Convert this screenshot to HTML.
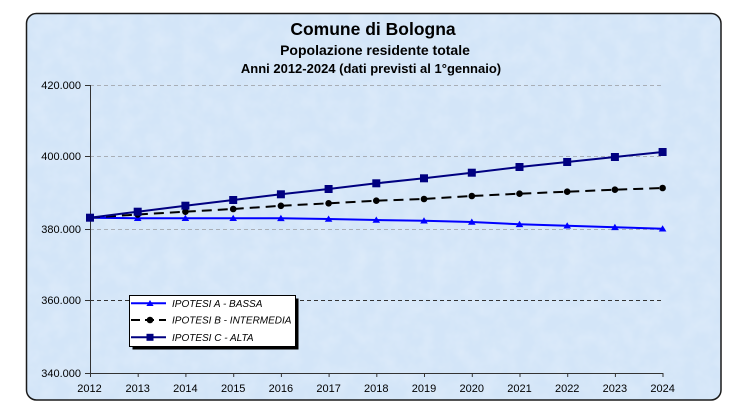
<!DOCTYPE html>
<html>
<head>
<meta charset="utf-8">
<style>
html,body{margin:0;padding:0;background:#fff;}
body{width:743px;height:413px;overflow:hidden;}
svg{display:block;}
text{font-family:"Liberation Sans",Arial,sans-serif;}
</style>
</head>
<body>
<svg width="743" height="413" viewBox="0 0 743 413" xmlns="http://www.w3.org/2000/svg">
  <defs>
    <filter id="tex" x="0" y="0" width="100%" height="100%">
      <feTurbulence type="fractalNoise" baseFrequency="0.06" numOctaves="3" seed="4" result="n"/>
      <feColorMatrix in="n" type="matrix" values="0 0 0 0 1  0 0 0 0 1  0 0 0 0 1  0 0 0 0.35 -0.12" result="w"/>
      <feComposite in="w" in2="SourceGraphic" operator="in"/>
    </filter>
  </defs>
  <!-- frame -->
  <rect x="26.5" y="13.5" width="694.5" height="386.5" rx="10" ry="10" fill="#d3e5f8"/>
  <rect x="26.5" y="13.5" width="694.5" height="386.5" rx="10" ry="10" fill="#d3e5f8" filter="url(#tex)"/>
  <rect x="26.5" y="13.5" width="694.5" height="386.5" rx="10" ry="10" fill="none" stroke="#1a1a1a" stroke-width="1.5"/>

  <!-- titles -->
  <text x="373" y="35" font-size="17.5" font-weight="bold" text-anchor="middle" fill="#000">Comune di Bologna</text>
  <text x="375" y="55" font-size="14" font-weight="bold" text-anchor="middle" fill="#000">Popolazione residente totale</text>
  <text x="371" y="73" font-size="13" font-weight="bold" text-anchor="middle" fill="#000">Anni 2012-2024 (dati previsti al 1°gennaio)</text>

  <!-- gridlines -->
  <g stroke-width="1" stroke-dasharray="4,3" fill="none">
    <line x1="90" y1="85.5" x2="661" y2="85.5" stroke="#a8aeb6"/>
    <line x1="90" y1="156.5" x2="661" y2="156.5" stroke="#a8aeb6"/>
    <line x1="90" y1="229.5" x2="661" y2="229.5" stroke="#a8aeb6"/>
    <line x1="90" y1="300.5" x2="661" y2="300.5" stroke="#333"/>
  </g>

  <!-- axes -->
  <g stroke="#333" stroke-width="1" fill="none">
    <line x1="90.5" y1="85" x2="90.5" y2="373"/>
    <line x1="90" y1="373.5" x2="663" y2="373.5"/>
    <line x1="85" y1="85.5" x2="90" y2="85.5"/>
    <line x1="85" y1="156.5" x2="90" y2="156.5"/>
    <line x1="85" y1="229.5" x2="90" y2="229.5"/>
    <line x1="85" y1="300.5" x2="90" y2="300.5"/>
    <line x1="85" y1="373.5" x2="90" y2="373.5"/>
    <line x1="90.5" y1="373" x2="90.5" y2="377"/>
    <line x1="138.2" y1="373" x2="138.2" y2="377"/>
    <line x1="185.9" y1="373" x2="185.9" y2="377"/>
    <line x1="233.7" y1="373" x2="233.7" y2="377"/>
    <line x1="281.4" y1="373" x2="281.4" y2="377"/>
    <line x1="329.1" y1="373" x2="329.1" y2="377"/>
    <line x1="376.8" y1="373" x2="376.8" y2="377"/>
    <line x1="424.5" y1="373" x2="424.5" y2="377"/>
    <line x1="472.3" y1="373" x2="472.3" y2="377"/>
    <line x1="520" y1="373" x2="520" y2="377"/>
    <line x1="567.7" y1="373" x2="567.7" y2="377"/>
    <line x1="615.4" y1="373" x2="615.4" y2="377"/>
    <line x1="663" y1="373" x2="663" y2="377"/>
  </g>

  <!-- y labels -->
  <g font-size="11" text-anchor="end" fill="#000">
    <text x="81" y="89">420.000</text>
    <text x="81" y="160">400.000</text>
    <text x="81" y="233">380.000</text>
    <text x="81" y="304">360.000</text>
    <text x="81" y="377">340.000</text>
  </g>
  <!-- x labels -->
  <g font-size="11" text-anchor="middle" fill="#000">
    <text x="89.5" y="392">2012</text>
    <text x="137.7" y="392">2013</text>
    <text x="185.4" y="392">2014</text>
    <text x="233.2" y="392">2015</text>
    <text x="280.9" y="392">2016</text>
    <text x="328.6" y="392">2017</text>
    <text x="376.3" y="392">2018</text>
    <text x="424" y="392">2019</text>
    <text x="471.8" y="392">2020</text>
    <text x="519.5" y="392">2021</text>
    <text x="567.2" y="392">2022</text>
    <text x="614.9" y="392">2023</text>
    <text x="662.6" y="392">2024</text>
  </g>

  <!-- Series A -->
  <polyline fill="none" stroke="#0000ff" stroke-width="2" points="90,217.7 137.7,218.2 185.4,218.2 233.2,218.2 280.9,218.3 328.6,219 376.3,220 424,220.7 471.8,222 519.5,224.3 567.2,225.7 614.9,227.3 662.6,228.7"/>
  <g fill="#0000ff">
    <polygon points="137.7,214.7 141.5,221 133.9,221"/>
    <polygon points="185.4,214.7 189.2,221 181.6,221"/>
    <polygon points="233.2,214.7 237,221 229.4,221"/>
    <polygon points="280.9,214.8 284.7,221.1 277.1,221.1"/>
    <polygon points="328.6,215.5 332.4,221.8 324.8,221.8"/>
    <polygon points="376.3,216.5 380.1,222.8 372.5,222.8"/>
    <polygon points="424,217.2 427.8,223.5 420.2,223.5"/>
    <polygon points="471.8,218.5 475.6,224.8 468,224.8"/>
    <polygon points="519.5,220.8 523.3,227.1 515.7,227.1"/>
    <polygon points="567.2,222.2 571,228.5 563.4,228.5"/>
    <polygon points="614.9,223.8 618.7,230.1 611.1,230.1"/>
    <polygon points="662.6,225.2 666.4,231.5 658.8,231.5"/>
  </g>

  <!-- Series B -->
  <polyline fill="none" stroke="#000" stroke-width="2" stroke-dasharray="10,6" points="90,217.7 137.7,214.5 185.4,211.7 233.2,209 280.9,205.8 328.6,203.3 376.3,200.7 424,199 471.8,196 519.5,193.7 567.2,191.7 614.9,189.7 662.6,188"/>
  <g fill="#000">
    <circle cx="137.7" cy="214.5" r="3.3"/>
    <circle cx="185.4" cy="211.7" r="3.3"/>
    <circle cx="233.2" cy="209" r="3.3"/>
    <circle cx="280.9" cy="205.8" r="3.3"/>
    <circle cx="328.6" cy="203.3" r="3.3"/>
    <circle cx="376.3" cy="200.7" r="3.3"/>
    <circle cx="424" cy="199" r="3.3"/>
    <circle cx="471.8" cy="196" r="3.3"/>
    <circle cx="519.5" cy="193.7" r="3.3"/>
    <circle cx="567.2" cy="191.7" r="3.3"/>
    <circle cx="614.9" cy="189.7" r="3.3"/>
    <circle cx="662.6" cy="188" r="3.3"/>
  </g>

  <!-- Series C -->
  <polyline fill="none" stroke="#000080" stroke-width="2" points="90,217.7 137.7,211.7 185.4,205.7 233.2,200 280.9,194.3 328.6,189 376.3,183.3 424,178.3 471.8,172.7 519.5,167 567.2,162 614.9,157 662.6,152"/>
  <g fill="#000080">
    <rect x="86" y="213.7" width="8" height="8"/>
    <rect x="133.7" y="207.7" width="8" height="8"/>
    <rect x="181.4" y="201.7" width="8" height="8"/>
    <rect x="229.2" y="196" width="8" height="8"/>
    <rect x="276.9" y="190.3" width="8" height="8"/>
    <rect x="324.6" y="185" width="8" height="8"/>
    <rect x="372.3" y="179.3" width="8" height="8"/>
    <rect x="420" y="174.3" width="8" height="8"/>
    <rect x="467.8" y="168.7" width="8" height="8"/>
    <rect x="515.5" y="163" width="8" height="8"/>
    <rect x="563.2" y="158" width="8" height="8"/>
    <rect x="610.9" y="153" width="8" height="8"/>
    <rect x="658.6" y="148" width="8" height="8"/>
  </g>

  <!-- legend -->
  <rect x="132.5" y="298.5" width="166" height="51" fill="#000"/>
  <rect x="129.5" y="295.5" width="166" height="51" fill="#fff" stroke="#000" stroke-width="1"/>
  <line x1="131" y1="303.3" x2="166" y2="303.3" stroke="#0000ff" stroke-width="2"/>
  <polygon points="150,300 153.6,306 146.4,306" fill="#0000ff"/>
  <line x1="131" y1="320" x2="166" y2="320" stroke="#000" stroke-width="2" stroke-dasharray="9,5"/>
  <circle cx="150" cy="320" r="3.3" fill="#000"/>
  <line x1="131" y1="337.3" x2="166" y2="337.3" stroke="#000080" stroke-width="2"/>
  <rect x="146.5" y="333.8" width="7" height="7" fill="#000080"/>
  <g font-size="10" font-style="italic" fill="#000">
    <text x="172" y="307">IPOTESI A - BASSA</text>
    <text x="172" y="323.7">IPOTESI B - INTERMEDIA</text>
    <text x="172" y="341">IPOTESI C - ALTA</text>
  </g>
</svg>
</body>
</html>
